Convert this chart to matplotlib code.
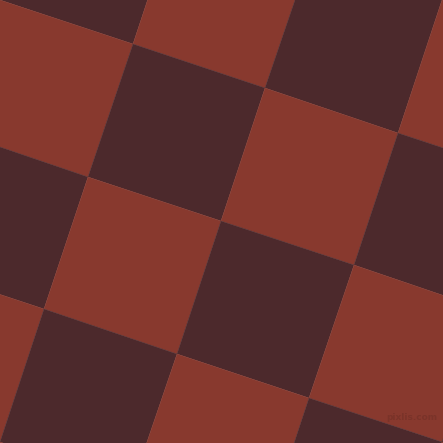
import numpy as np
import matplotlib.pyplot as plt
from matplotlib.colors import ListedColormap

# ==============================
# DATA
# ==============================
tile_colors = ["#4C292C", "#88392E"]   # dark maroon, rust
tile_size = 139.9                       # px, side of one square
angle_deg = 18.46                       # rotation of the grid
grid_origin = [221.0, 221.0]            # a grid corner (px)
n_tiles = range(-3, 4)
watermark = "pixlis.com"

# ==============================
# GRID
# ==============================
a = np.deg2rad(angle_deg)
u = np.array([np.cos(a), np.sin(a)]) * tile_size
v = np.array([-np.sin(a), np.cos(a)]) * tile_size

idx = np.arange(n_tiles.start, n_tiles.stop + 1)
I, J = np.meshgrid(idx, idx)
X = grid_origin[0] + I * u[0] + J * v[0]
Y = grid_origin[1] + I * u[1] + J * v[1]

ci, cj = np.meshgrid(idx[:-1], idx[:-1])
checker = (ci + cj) % 2

# ==============================
# PLOT
# ==============================
fig = plt.figure(figsize=(4.43, 4.43), dpi=100)
ax = fig.add_axes([0, 0, 1, 1])
ax.pcolormesh(X, Y, checker, cmap=ListedColormap(tile_colors),
              vmin=0, vmax=1, shading="flat", antialiased=True,
              edgecolor="face", linewidth=0.3)
ax.set_xlim(0, 443)
ax.set_ylim(443, 0)
ax.axis("off")

ax.text(437, 418, watermark, ha="right", va="center", fontsize=6.5,
        color="#7A3329", fontweight="bold")

fig.savefig("out.png", dpi=100)
